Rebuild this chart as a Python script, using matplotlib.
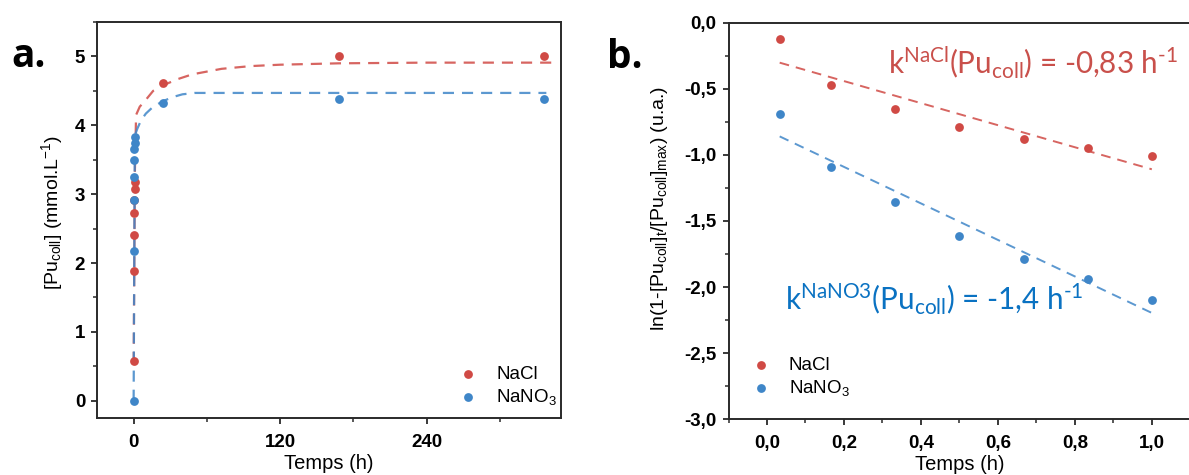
import numpy as np
import matplotlib
matplotlib.use("Agg")
import matplotlib.pyplot as plt
from matplotlib.ticker import MultipleLocator, FuncFormatter

# ---------------- data ----------------
# Panel a: kinetics [Pu_coll] vs time (h)
t_nacl = [0.033, 0.167, 0.333, 0.5, 0.667, 0.833, 1.0, 24, 168, 336]
c_nacl = [0.58, 1.88, 2.40, 2.73, 2.92, 3.07, 3.18, 4.61, 5.00, 5.00]
t_nano3 = [0.0, 0.033, 0.167, 0.333, 0.5, 0.667, 0.833, 1.0, 24, 168, 336]
c_nano3 = [0.0, 2.18, 2.92, 3.25, 3.50, 3.65, 3.74, 3.83, 4.33, 4.38, 4.38]

# fitted curves
fit_t_nacl = [0.033, 1, 2, 5, 10, 16, 24, 36, 48, 72, 96, 120, 168, 240, 342]
fit_c_nacl = [0.55, 3.3, 4.15, 4.27, 4.37, 4.5, 4.58, 4.67, 4.74, 4.82, 4.86, 4.88, 4.9, 4.91, 4.91]
fit_t_nano3 = [0.0, 1, 3, 6, 10, 16, 24, 32, 40, 50, 338]
fit_c_nano3 = [0.0, 3.85, 3.95, 4.07, 4.17, 4.27, 4.35, 4.41, 4.45, 4.47, 4.47]

# Panel b: linearised kinetics
tb = [0.033, 0.167, 0.333, 0.5, 0.667, 0.833, 1.0]
ln_nacl = [-0.12, -0.47, -0.655, -0.79, -0.88, -0.945, -1.01]
ln_nano3 = [-0.69, -1.095, -1.36, -1.61, -1.79, -1.935, -2.10]

red = "#D04A45"
blue = "#3F86C8"
red_txt = "#C9504B"
blue_txt = "#0A72C2"
spine_c = "#2a2a2a"

plt.rcParams["font.family"] = ["Liberation Sans", "DejaVu Sans"]
plt.rcParams["mathtext.default"] = "regular"

fig = plt.figure(figsize=(11.89, 4.75), dpi=100)
W, H = 1189, 475


def axpos(l, t, r, b):
    return [l / W, 1 - b / H, (r - l) / W, (b - t) / H]


comma = FuncFormatter(lambda v, p: f"{v:.1f}".replace(".", ","))
DASH = (0, (5, 3.6))


def style(ax):
    for s in ax.spines.values():
        s.set_linewidth(1.4)
        s.set_color(spine_c)
    ax.tick_params(which="major", direction="out", length=4.5, width=1.3,
                   colors=spine_c, labelsize=13.5)
    ax.tick_params(axis="y", which="major", pad=4)
    ax.tick_params(axis="x", which="major", pad=7)
    ax.tick_params(which="minor", direction="out", length=2.8, width=1.1, colors=spine_c)
    for lab in ax.get_xticklabels() + ax.get_yticklabels():
        lab.set_fontweight("bold")
        lab.set_color("black")


LEG = dict(frameon=False, fontsize=13.5, borderpad=0, borderaxespad=0,
           handlelength=1.0, handletextpad=1.0, labelspacing=0.22, loc="upper left")

# ---------------- panel a ----------------
axa = fig.add_axes(axpos(97, 22, 561, 418))
axa.plot(fit_t_nacl, fit_c_nacl, ls=DASH, color=red, lw=1.6, alpha=0.85)
axa.plot(fit_t_nano3, fit_c_nano3, ls=DASH, color=blue, lw=1.6, alpha=0.85)
axa.scatter(t_nacl, c_nacl, s=40, color=red, zorder=3, label="NaCl", linewidths=0)
axa.scatter(t_nano3, c_nano3, s=40, color=blue, zorder=3,
            label=r"NaNO$\mathregular{_3}$", linewidths=0)
axa.set_xlim(-30, 350)
axa.set_ylim(-0.25, 5.5)
axa.xaxis.set_major_locator(MultipleLocator(120))
axa.xaxis.set_minor_locator(MultipleLocator(60))
axa.yaxis.set_major_locator(MultipleLocator(1))
axa.yaxis.set_minor_locator(MultipleLocator(0.5))
style(axa)
axa.set_xlabel("Temps (h)", fontsize=14.5, labelpad=2)
axa.set_ylabel(r"[Pu$\mathregular{_{coll}}$] (mmol.L$\mathregular{^{-1}}$)", fontsize=14)
axa.yaxis.set_label_coords((52 - 97) / 464, 0.52)
axa.yaxis.label.set_verticalalignment("center")
axa.legend(bbox_to_anchor=((458.6 - 97) / 464, 1 - (366 - 22) / 396), **LEG)

# ---------------- panel b ----------------
L, R = 728.5, 1190.3
axb = fig.add_axes(axpos(L, 22.7, R, 419.3))
for yv, c in ((ln_nacl, red), (ln_nano3, blue)):
    k, b0 = np.polyfit(tb, yv, 1)
    xx = np.array([tb[0], tb[-1]])
    axb.plot(xx, k * xx + b0, ls=DASH, color=c, lw=1.4, alpha=0.85)
axb.scatter(tb, ln_nacl, s=40, color=red, zorder=3, label="NaCl", linewidths=0)
axb.scatter(tb, ln_nano3, s=40, color=blue, zorder=3,
            label=r"NaNO$\mathregular{_3}$", linewidths=0)
axb.set_xlim(-0.1, 1.1)
axb.set_ylim(-3.0, 0.0)
axb.xaxis.set_major_locator(MultipleLocator(0.2))
axb.xaxis.set_minor_locator(MultipleLocator(0.1))
axb.yaxis.set_major_locator(MultipleLocator(0.5))
axb.yaxis.set_minor_locator(MultipleLocator(0.25))
axb.xaxis.set_major_formatter(comma)
axb.yaxis.set_major_formatter(comma)
style(axb)
axb.spines["right"].set_visible(False)
axb.set_xlabel("Temps (h)", fontsize=14.5, labelpad=2)
axb.set_ylabel(r"ln(1-[Pu$\mathregular{_{coll}}$]$\mathregular{_t}$/[Pu$\mathregular{_{coll}}$]$\mathregular{_{max}}$) (u.a.)",
               fontsize=14)
axb.yaxis.set_label_coords((660 - L) / (R - L), 0.533)
axb.yaxis.label.set_verticalalignment("center")
axb.legend(bbox_to_anchor=((751.4 - L) / (R - L), 1 - (357 - 22.7) / 396.6), **LEG)

LATO = ["Lato", "DejaVu Sans"]
fig.text(888 / W, 1 - 73 / H,
         "k$\\mathregular{^{NaCl}}$(Pu$\\mathregular{_{coll}}$) = -0,83 h$\\mathregular{^{\u20101}}$",
         color=red_txt, fontsize=21.3, family=LATO, va="baseline", ha="left")
fig.text(785 / W, 1 - 310 / H,
         "k$\\mathregular{^{NaNO3}}$(Pu$\\mathregular{_{coll}}$) = -1,4 h$\\mathregular{^{\u20101}}$",
         color=blue_txt, fontsize=21.3, family=LATO, va="baseline", ha="left")

fig.text(11 / W, 1 - 67 / H, "a.", fontsize=28, fontweight="bold",
         family=["Open Sans", "DejaVu Sans"], va="baseline")
fig.text(607 / W, 1 - 68 / H, "b.", fontsize=28, fontweight="bold",
         family=["Open Sans", "DejaVu Sans"], va="baseline")

fig.savefig("out.png", dpi=100)
